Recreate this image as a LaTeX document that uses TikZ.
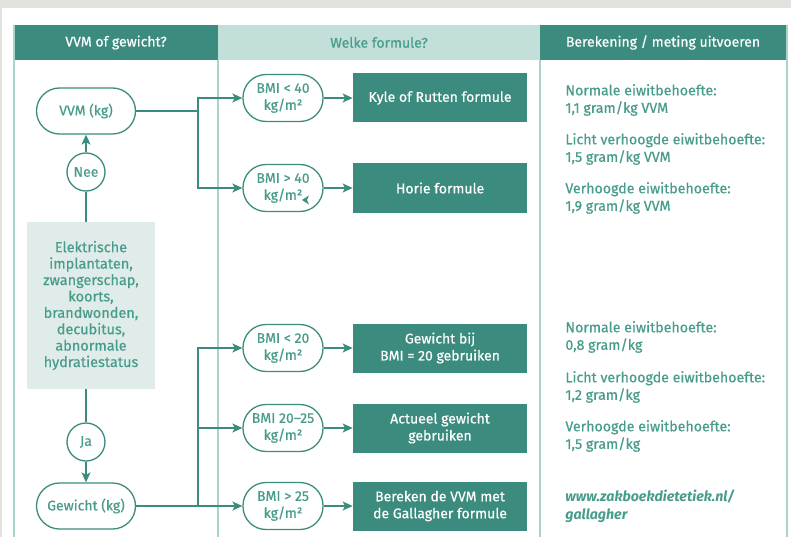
\documentclass[tikz,border=0pt]{standalone}
\usepackage{fontspec}
\setmainfont{Fira Sans}[UprightFeatures={FakeBold=0.5}]
\usetikzlibrary{positioning,arrows.meta}
\definecolor{teal1}{RGB}{59,140,126}
\definecolor{tealtext}{RGB}{72,156,140}
\definecolor{headlight}{RGB}{194,223,217}
\definecolor{frameline}{RGB}{170,211,203}
\definecolor{greybox}{RGB}{223,236,233}
\definecolor{paper}{RGB}{226,226,222}

\begin{document}
\begin{tikzpicture}[x=1pt,y=-1pt,>={Stealth[length=10pt,width=9pt,inset=2.5pt]},thick,
    font=\fontsize{14}{17}\selectfont,
    pill/.style={draw=teal1, line width=1.3pt, text=tealtext, rounded corners=23pt,
      minimum width=80pt, minimum height=47pt, align=center, inner sep=0pt},
    startbox/.style={pill, minimum width=99pt, minimum height=46pt},
    answer/.style={circle, draw=teal1, line width=1.3pt, text=tealtext, minimum size=38pt, inner sep=0pt},
    formula/.style={fill=teal1, text=white, minimum width=174pt, minimum height=49pt,
      align=center, inner sep=0pt},
    uitleg/.style={anchor=west, text=tealtext, align=left, inner sep=0pt,
      font=\fontsize{14.2}{17.5}\selectfont},
    flow/.style={draw=teal1, line width=1.3pt}]
  \useasboundingbox (0,0) rectangle (791,537);
  \fill[paper] (0,0) rectangle (791,537);
  \fill[white] (2,8) rectangle (791,537);

  % kolomkoppen
  \fill[teal1] (14,25) rectangle (218,60);
  \fill[headlight] (218,25) rectangle (540,60);
  \fill[teal1] (540,25) rectangle (787,60);
  \node (kop1) [text=white] at (116,42.5) {VVM of gewicht?};
  \node (kop2) [text=tealtext] at (379,42.5) {Welke formule?};
  \node (kop3) [text=white] at (663,42.5) {Berekening / meting uitvoeren};
  \draw[frameline, line width=1.4pt] (14,25) -- (14,537);
  \draw[frameline, line width=1.4pt] (218,60) -- (218,537);
  \draw[frameline, line width=1.4pt] (540,60) -- (540,537);
  \draw[frameline, line width=1.4pt] (787,25) -- (787,537);

  % kolom 1
  \node (vvm) [startbox] at (86,111) {VVM (kg)};
  \node (nee) [answer] at (86,172) {Nee};
  \node (cond) [fill=greybox, text=tealtext, minimum width=128pt, minimum height=167pt,
    align=center, inner sep=0pt, font=\fontsize{14.5}{16.4}\selectfont] at (91,305.5)
    {Elektrische\\implantaten,\\zwangerschap,\\koorts,\\brandwonden,\\decubitus,\\abnormale\\hydratiestatus};
  \node (ja) [answer] at (86,442) {Ja};
  \node (gew) [startbox] at (86,506) {Gewicht (kg)};
  \draw[flow] (86,222) -- (nee);
  \draw[flow,->] (nee) -- (vvm);
  \draw[flow] (86,389) -- (ja);
  \draw[flow,->] (ja) -- (gew);

  % kolom 2
  \node (bmilt40) [pill] at (283,98) {BMI < 40\\kg/m²};
  \node (bmigt40) [pill] at (283,188) {BMI > 40\\kg/m²};
  \node (bmilt20) [pill] at (283,348) {BMI < 20\\kg/m²};
  \node (bmi2025) [pill] at (283,428) {BMI 20–25\\kg/m²};
  \node (bmigt25) [pill] at (283,506) {BMI > 25\\kg/m²};
  \node (kyle) [formula, right=29pt of bmilt40] {Kyle of Rutten formule};
  \node (horie) [formula, right=29pt of bmigt40] {Horie formule};
  \node (bmi20) [formula, right=29pt of bmilt20] {Gewicht bij\\BMI = 20 gebruiken};
  \node (actueel) [formula, right=29pt of bmi2025] {Actueel gewicht\\gebruiken};
  \node (gallagher) [formula, right=29pt of bmigt25] {Bereken de VVM met\\de Gallagher formule};
  \fill[teal1] (302,200) -- (309,195.5) -- (307,200) -- (309,204.5) -- cycle;

  \coordinate (splitvvm) at (198,111);
  \coordinate (splitgew) at (198,506);
  \draw[flow] (vvm) -- (splitvvm);
  \draw[flow,->] (splitvvm) |- (bmilt40);
  \draw[flow,->] (splitvvm) |- (bmigt40);
  \draw[flow,->] (gew) -- (bmigt25);
  \draw[flow,->] (splitgew) |- (bmilt20);
  \draw[flow,->] (splitgew) |- (bmi2025);
  \draw[flow,->] (bmilt40) -- (kyle);
  \draw[flow,->] (bmigt40) -- (horie);
  \draw[flow,->] (bmilt20) -- (bmi20);
  \draw[flow,->] (bmi2025) -- (actueel);
  \draw[flow,->] (bmigt25) -- (gallagher);

  % kolom 3
  \node (vvm1) [uitleg] at (565,100) {Normale eiwitbehoefte:\\1,1 gram/kg VVM};
  \node (vvm2) [uitleg] at (565,149) {Licht verhoogde eiwitbehoefte:\\1,5 gram/kg VVM};
  \node (vvm3) [uitleg] at (565,198) {Verhoogde eiwitbehoefte:\\1,9 gram/kg VVM};
  \node (gew1) [uitleg] at (565,337) {Normale eiwitbehoefte:\\0,8 gram/kg};
  \node (gew2) [uitleg] at (565,387) {Licht verhoogde eiwitbehoefte:\\1,2 gram/kg};
  \node (gew3) [uitleg] at (565,436) {Verhoogde eiwitbehoefte:\\1,5 gram/kg};
  \node (link) [uitleg, font=\fontsize{14.2}{17.5}\selectfont\bfseries\itshape] at (565,506.5)
    {www.zakboekdietetiek.nl/\\gallagher};
\end{tikzpicture}
\end{document}
